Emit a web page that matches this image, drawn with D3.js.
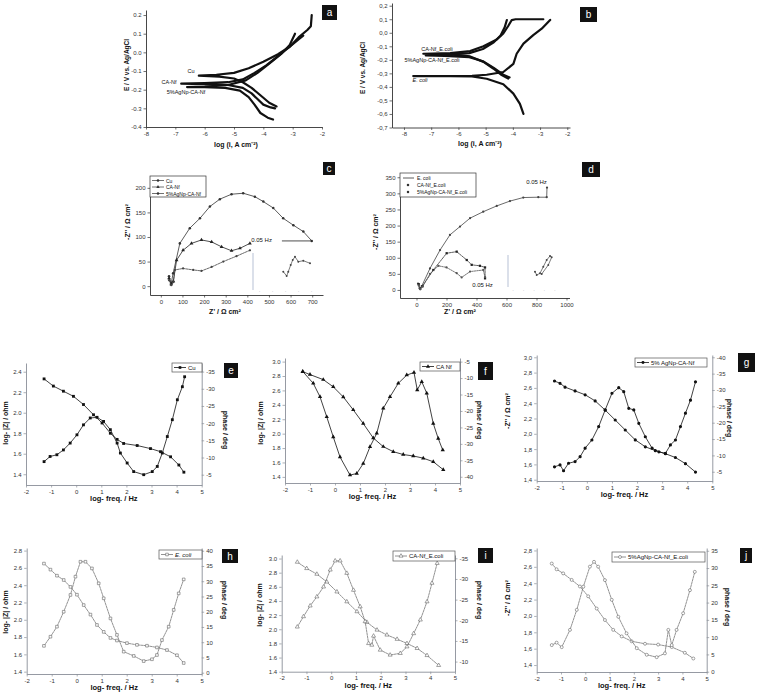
<!DOCTYPE html>
<html><head><meta charset="utf-8">
<script src="https://cdn.jsdelivr.net/npm/d3@7"></script>
<style>body{margin:0;background:#fff}svg{display:block;font-family:"Liberation Sans",Arial,sans-serif}</style>
</head><body><svg id="chart" width="757" height="696"></svg>
<script>
// ---------------- DATA ----------------
// Panel a: Tafel (log i, E)
const tafelXTicks = [-8,-7,-6,-5,-4,-3,-2];
const tafelAYTicks = [0.2,0.1,0.0,-0.1,-0.2,-0.3,-0.4];
const tafelAYLabels = ["0.2","0.1","0.0","-0.1","-0.2","-0.3","-0.4"];
const tafelCu = [[-3.55,-0.29],[-3.8,-0.27],[-4.1,-0.23],[-4.4,-0.19],[-4.7,-0.16],[-5.0,-0.14],[-5.5,-0.13],[-6.2,-0.125],[-5.6,-0.12],[-5.0,-0.11],[-4.5,-0.085],[-4.0,-0.05],[-3.5,-0.01],[-3.1,0.03],[-2.8,0.08],[-2.5,0.12],[-2.38,0.14],[-2.35,0.2]];
const tafelCaNf = [[-3.6,-0.30],[-3.75,-0.295],[-4.0,-0.28],[-4.2,-0.25],[-4.4,-0.22],[-4.7,-0.19],[-5.2,-0.175],[-6.0,-0.17],[-6.8,-0.168],[-6.0,-0.165],[-5.2,-0.16],[-4.7,-0.145],[-4.3,-0.11],[-3.9,-0.07],[-3.5,-0.02],[-3.1,0.03],[-2.8,0.07],[-2.64,0.09]];
const tafelAg = [[-3.67,-0.36],[-3.85,-0.35],[-4.1,-0.325],[-4.3,-0.28],[-4.5,-0.24],[-4.8,-0.205],[-5.3,-0.19],[-6.0,-0.186],[-6.6,-0.186],[-6.0,-0.183],[-5.2,-0.175],[-4.6,-0.15],[-4.2,-0.11],[-3.8,-0.06],[-3.4,-0.01],[-3.1,0.04],[-2.92,0.10]];
// Panel b
const tafelBYTicks = [0.2,0.1,0,-0.1,-0.2,-0.3,-0.4,-0.5,-0.6,-0.7];
const tafelBYLabels = ["0,2","0,1","0,0","-0,1","-0,2","-0,3","-0,4","-0,5","-0,6","-0,7"];
const tafelEcoli = [[-3.61,-0.6],[-3.74,-0.525],[-3.98,-0.45],[-4.35,-0.38],[-4.96,-0.34],[-5.5,-0.323],[-6.3,-0.32],[-7.0,-0.32],[-7.66,-0.32],[-7.0,-0.32],[-6.3,-0.32],[-5.5,-0.318],[-4.96,-0.31],[-4.35,-0.29],[-3.98,-0.23],[-3.86,-0.155],[-3.61,-0.08],[-3.25,-0.017],[-2.94,0.03],[-2.63,0.095]];
const tafelCaNfEcoli = [[-4.17,-0.338],[-4.41,-0.313],[-4.72,-0.264],[-5.08,-0.215],[-5.57,-0.175],[-6.3,-0.16],[-7.29,-0.155],[-6.3,-0.15],[-5.57,-0.135],[-5.08,-0.1],[-4.59,-0.05],[-4.35,-0.005],[-4.17,0.05],[-4.04,0.094],[-3.9,0.1],[-2.88,0.1]];
const tafelAgEcoli = [[-4.12,-0.33],[-4.35,-0.31],[-4.7,-0.26],[-5.1,-0.21],[-5.6,-0.18],[-6.5,-0.17],[-7.2,-0.168],[-6.5,-0.163],[-5.6,-0.15],[-5.1,-0.12],[-4.7,-0.07],[-4.45,-0.02],[-4.3,0.04],[-4.22,0.094]];
// Panel c: Nyquist (Z', -Z'')
const nyqCXTicks = [0,100,200,300,400,500,600,700];
const nyqCYTicks = [0,50,100,150,200];
const nyqCu = [[38,20],[48,6],[57,26],[88,87],[134,118],[181,138],[227,162],[273,177],[327,187],[381,189],[435,182],[474,172],[520,159],[566,138],[613,124],[659,111],[698,92]];
const nyqCaNf = [[38,16],[48,4],[58,10],[73,53],[103,73],[142,87],[188,94],[235,90],[281,80],[327,72],[366,77],[412,87]];
const nyqAg = [[38,12],[48,2],[58,8],[65,33],[103,36],[150,33],[188,31],[235,39],[289,50],[350,61],[412,73]];
const insetC = [[46.6,49.5],[51.8,37.8],[54.3,49.5],[58,67.6],[61.1,81],[64.6,90],[69.7,76.5],[77.4,79.2],[87.7,72.2]];
// Panel d
const nyqDXTicks = [0,200,400,600,800,1000];
const nyqDYTicks = [0,50,100,150,200,250,300,350];
const nyqEcoli = [[10,20],[20,5],[35,12],[90,67],[157,124],[223,171],[290,197],[357,223],[445,243],[535,261],[623,276],[712,287],[812,288],[868,288],[870,318]];
const nyqCaNfEcoli = [[15,18],[25,4],[40,12],[112,62],[201,114],[268,119],[335,93],[368,78],[423,75],[457,70],[457,36]];
const nyqAgEcoli = [[15,14],[25,2],[40,10],[90,50],[146,75],[200,70],[268,52],[301,39],[357,57],[445,62],[457,40]];
const insetD = [[51.9,47.8],[55.2,37.5],[61.5,42.8],[67.9,63.4],[74.4,84.4],[80.8,96.9],[84,92.8],[77.5,68.8],[64.8,40.6]];
// Panels e-j: Bode (log f, log|Z|) and (log f, phase)
const bodeXTicks = [-2,-1,0,1,2,3,4,5];
const cuLogZ = [[-1.28,2.33],[-0.91,2.26],[-0.51,2.21],[-0.11,2.16],[0.29,2.08],[0.69,1.98],[1.03,1.90],[1.36,1.80],[1.63,1.74],[1.89,1.70],[2.43,1.68],[2.96,1.65],[3.36,1.62],[3.76,1.57],[4.09,1.49],[4.29,1.42]];
const cuPhase = [[-1.28,-8.8],[-1.04,-10.3],[-0.77,-10.8],[-0.51,-12.2],[-0.24,-14.2],[0.03,-16.6],[0.29,-19.5],[0.56,-21.5],[0.83,-21.7],[1.09,-20.5],[1.36,-18.1],[1.63,-14.2],[1.76,-11.3],[2.03,-8.4],[2.29,-5.9],[2.69,-5.0],[3.03,-5.9],[3.23,-7.4],[3.43,-11.3],[3.63,-16.1],[3.83,-21],[4.03,-26.8],[4.23,-30.6],[4.32,-33.5]];
const caNfLogZ = [[-1.29,2.86],[-1.0,2.82],[-0.47,2.75],[-0.07,2.65],[0.33,2.51],[0.73,2.33],[1.13,2.14],[1.53,1.94],[1.93,1.82],[2.33,1.75],[2.73,1.71],[3.13,1.69],[3.53,1.66],[3.93,1.61],[4.33,1.50]];
const caNfPhase = [[-1.29,-8.0],[-0.87,-11.6],[-0.6,-15.7],[-0.33,-21.8],[-0.07,-27.9],[0.2,-34.0],[0.6,-39.5],[0.87,-39.0],[1.13,-36.0],[1.4,-30.9],[1.67,-26.8],[1.93,-19.2],[2.2,-15.7],[2.53,-11.6],[2.87,-9.1],[3.16,-8.3],[3.29,-13.6],[3.47,-11.1],[3.67,-14.6],[3.93,-23.8],[4.13,-28.4],[4.31,-31.9]];
const agLogZ = [[-1.29,2.69],[-1.07,2.66],[-0.87,2.61],[-0.47,2.56],[-0.07,2.51],[0.33,2.43],[0.73,2.31],[1.13,2.18],[1.53,2.05],[1.93,1.92],[2.33,1.83],[2.73,1.78],[3.13,1.74],[3.53,1.69],[3.93,1.61],[4.33,1.50]];
const agPhase = [[-1.29,-6.5],[-1.07,-7.1],[-0.93,-5.3],[-0.73,-7.6],[-0.47,-8.1],[-0.27,-9.6],[-0.07,-12.2],[0.2,-14.7],[0.47,-18.8],[0.73,-23.9],[1.0,-29.0],[1.27,-30.7],[1.47,-29.5],[1.67,-24.4],[1.87,-23.9],[2.07,-19.8],[2.33,-15.7],[2.6,-12.2],[2.87,-11.1],[3.13,-10.6],[3.33,-13.2],[3.53,-14.7],[3.73,-18.8],[3.93,-22.9],[4.13,-26.9],[4.33,-32.5]];
const ecoliLogZ = [[-1.31,2.65],[-1.05,2.58],[-0.79,2.51],[-0.52,2.46],[-0.25,2.38],[0.01,2.29],[0.28,2.17],[0.55,2.06],[0.81,1.94],[1.08,1.86],[1.35,1.79],[1.61,1.76],[2.01,1.73],[2.41,1.71],[2.81,1.70],[3.21,1.68],[3.61,1.65],[4.01,1.59],[4.28,1.50]];
const ecoliPhase = [[-1.31,8.8],[-1.05,11.8],[-0.79,15.1],[-0.52,20.0],[-0.25,25.5],[-0.05,31.5],[0.15,36.4],[0.35,36.4],[0.61,34.2],[0.88,29.3],[1.08,24.4],[1.35,17.8],[1.61,12.4],[1.88,6.9],[2.28,5.5],[2.68,3.8],[3.01,4.4],[3.21,5.8],[3.41,10.7],[3.68,15.1],[3.88,20.6],[4.08,26.0],[4.28,30.6]];
const caNfEcoliLogZ = [[-1.37,2.95],[-0.99,2.86],[-0.58,2.78],[-0.18,2.67],[0.23,2.53],[0.63,2.39],[1.04,2.25],[1.44,2.10],[1.85,1.99],[2.25,1.92],[2.66,1.86],[3.06,1.80],[3.47,1.73],[3.87,1.63],[4.34,1.49]];
const caNfEcoliPhase = [[-1.37,-18.4],[-1.12,-20.9],[-0.85,-23.5],[-0.58,-25.7],[-0.31,-28.1],[-0.04,-32.2],[0.16,-34.4],[0.36,-34.4],[0.63,-31.4],[0.9,-27.3],[1.17,-23.3],[1.37,-19.7],[1.51,-14.4],[1.64,-14.0],[1.71,-16.2],[1.98,-12.8],[2.38,-11.6],[2.79,-12.0],[3.06,-13.6],[3.33,-16.8],[3.6,-20.1],[3.87,-24.5],[4.07,-29.0],[4.28,-33.8]];
const agEcoliLogZ = [[-1.38,2.64],[-1.18,2.57],[-0.91,2.52],[-0.56,2.44],[-0.22,2.36],[0.12,2.24],[0.47,2.09],[0.81,1.95],[1.15,1.83],[1.5,1.75],[1.91,1.69],[2.46,1.66],[3.0,1.65],[3.56,1.62],[4.1,1.55],[4.45,1.48]];
const agEcoliPhase = [[-1.38,7.7],[-1.18,8.4],[-0.97,7.1],[-0.63,12.1],[-0.35,17.9],[-0.08,24.6],[0.19,30.4],[0.36,31.8],[0.53,30.4],[0.81,26.5],[1.09,20.8],[1.36,15.9],[1.7,11.1],[2.12,6.8],[2.53,4.9],[2.94,4.2],[3.28,5.3],[3.42,12.1],[3.56,7.7],[3.76,12.1],[4.03,16.9],[4.31,23.6],[4.51,28.9]];

// ---------------- DRAWING ----------------
const svg = d3.select('#chart');
svg.append('rect').attr('width',757).attr('height',696).attr('fill','#fff');
const FONT = '"Liberation Sans",Arial,sans-serif';
const plain = d => String(d);

function styleAxis(sel, color, fs){
  sel.attr('font-size',fs||6).attr('font-family',FONT);
  sel.select('.domain').attr('stroke',color).attr('stroke-width',0.9);
  sel.selectAll('.tick line').attr('stroke',color).attr('stroke-width',0.7);
  sel.selectAll('.tick text').attr('fill','#333');
}
function text(x,y,s,o){
  o=o||{};
  const t=svg.append('text').attr('x',x).attr('y',y).text(s)
    .attr('font-size',o.fs||7).attr('font-family',FONT)
    .attr('font-weight',o.bold?'bold':'normal')
    .attr('font-style',o.italic?'italic':'normal')
    .attr('fill',o.fill||'#111')
    .attr('text-anchor',o.anchor||'middle');
  if(o.rot) t.attr('transform',`rotate(${o.rot},${x},${y})`);
  return t;
}
function badge(l,x,y,w,h){
  svg.append('rect').attr('x',x).attr('y',y).attr('width',w).attr('height',h).attr('fill','#111');
  text(x+w/2,y+h/2+3.5,l,{fs:10,fill:'#fff'});
}

function xyPanel(p){
  const x=d3.scaleLinear().domain(p.xd).range([p.x0,p.x1]);
  const y=d3.scaleLinear().domain(p.yd).range([p.y1,p.y0]);
  const ax=svg.append('g').attr('transform',`translate(0,${p.y1})`)
    .call(d3.axisBottom(x).tickValues(p.xt).tickFormat((d,i)=>p.xl?p.xl[i]:plain(d)).tickSize(2.5).tickSizeOuter(0).tickPadding(2));
  styleAxis(ax,p.ac||'#333');
  const ay=svg.append('g').attr('transform',`translate(${p.x0},0)`)
    .call(d3.axisLeft(y).tickValues(p.yt).tickFormat((d,i)=>p.yl?p.yl[i]:plain(d)).tickSize(2.5).tickSizeOuter(0).tickPadding(2));
  styleAxis(ay,p.ac||'#333');
  return {x,y};
}
function path(sc,data,o){
  const ln=d3.line().x(d=>sc.x(d[0])).y(d=>sc.y(d[1]));
  svg.append('path').attr('d',ln(data)).attr('fill','none')
    .attr('stroke',o.stroke||'#111').attr('stroke-width',o.sw||1)
    .attr('stroke-linejoin','round').attr('stroke-linecap','round')
    .attr('stroke-dasharray',o.dash||null);
  if(o.sym){
    const s=d3.symbol().type(o.sym).size(o.ss||8);
    svg.append('g').selectAll('path').data(data).join('path')
      .attr('transform',d=>`translate(${sc.x(d[0])},${sc.y(d[1])})`)
      .attr('d',s).attr('fill',o.mfill||'#111').attr('stroke',o.mstroke||'none').attr('stroke-width',0.6);
  }
}

// ---- Panel a ----
const pa=xyPanel({x0:146,x1:322,y0:10,y1:127,xd:[-8,-2],yd:[-0.4,0.227],xt:tafelXTicks,yt:tafelAYTicks,yl:tafelAYLabels});
[tafelCu,tafelCaNf,tafelAg].forEach(d=>path(pa,d,{sw:2.2}));
text(191,73,'Cu',{fs:5.5});
text(169,84,'CA-Nf',{fs:5.5});
text(186,94,'5%AgNp-CA-Nf',{fs:5.5});
text(129,65,'E / V vs. Ag/AgCl',{fs:6.5,bold:true,rot:-90});
text(236,147,'log (i,  A cm⁻²)',{fs:7,bold:true});
badge('a',322,5,15,15);

// ---- Panel b ----
const pb=xyPanel({x0:392,x1:570,y0:3,y1:127.5,xd:[-8.44,-1.9],yd:[-0.7,0.22],xt:tafelXTicks,yt:tafelBYTicks,yl:tafelBYLabels});
[tafelEcoli,tafelCaNfEcoli,tafelAgEcoli].forEach(d=>path(pb,d,{sw:2.2}));
text(437,51,'CA-Nf_E.coli',{fs:5.5});
text(432,62,'5%AgNp-CA-Nf_E.coli',{fs:5.5});
text(420,82,'E. coli',{fs:5.5,italic:true});
text(365,68,'E / V vs. Ag/AgCl',{fs:6.5,bold:true,rot:-90});
text(480,146,'log (i,  A cm⁻²)',{fs:7,bold:true});
badge('b',580,7,17,15);

// ---- Panel c ----
const pc=xyPanel({x0:150,x1:323,y0:178,y1:295,xd:[-50,750],yd:[-18,220],xt:nyqCXTicks,yt:nyqCYTicks});
path(pc,nyqCu,{sw:0.8,stroke:'#333',sym:d3.symbolCircle,ss:5,mfill:'#333'});
path(pc,nyqCaNf,{sw:0.8,stroke:'#222',sym:d3.symbolTriangle,ss:6,mfill:'#222'});
path(pc,nyqAg,{sw:0.8,stroke:'#444',dash:'2,1',sym:d3.symbolCircle,ss:4,mfill:'#444'});
text(pc.x(418),pc.y(89),'0.05 Hz',{fs:6,anchor:'start'});
svg.append('line').attr('x1',pc.x(560)).attr('x2',pc.x(698)).attr('y1',pc.y(92)).attr('y2',pc.y(92)).attr('stroke','#222').attr('stroke-width',0.8);
svg.append('rect').attr('x',150).attr('y',176).attr('width',56).attr('height',21).attr('fill','#fff').attr('stroke','#333').attr('stroke-width',0.7);
[['Cu',d3.symbolCircle],['CA-Nf',d3.symbolTriangle],['5%AgNp-CA-Nf',d3.symbolCircle]].forEach((e,i)=>{
  const yy=180.5+i*6.5;
  svg.append('line').attr('x1',152).attr('x2',164).attr('y1',yy).attr('y2',yy).attr('stroke','#333').attr('stroke-width',0.7);
  svg.append('path').attr('transform',`translate(158,${yy})`).attr('d',d3.symbol().type(e[1]).size(5)()).attr('fill','#333');
  text(166,yy+2,e[0],{fs:5,anchor:'start'});
});
const icx=d3.scaleLinear().domain([0,100]).range([253,318]);
const icy=d3.scaleLinear().domain([0,100]).range([290,253]);
svg.append('line').attr('x1',253).attr('x2',253).attr('y1',253).attr('y2',290).attr('stroke','#8899bb').attr('stroke-width',0.6);
path({x:icx,y:icy},insetC,{sw:0.7,stroke:'#444',sym:d3.symbolCircle,ss:3,mfill:'#444'});
[10,30,50,70,90].forEach(v=>text(icx(v),293,'·',{fs:5,fill:'#99a'}));
text(130,222,"-Z'' / Ω cm²",{fs:7,bold:true,rot:-90});
text(225,314,"Z' / Ω cm²",{fs:7,bold:true});
badge('c',323,162,12,13);

// ---- Panel d ----
const pd=xyPanel({x0:400,x1:569.5,y0:175,y1:298,xd:[-110,1020],yd:[-25,357],xt:nyqDXTicks,yt:nyqDYTicks});
path(pd,nyqEcoli,{sw:0.8,stroke:'#444',sym:d3.symbolCircle,ss:4,mfill:'#444'});
path(pd,nyqCaNfEcoli,{sw:0.8,stroke:'#333',dash:'2,1',sym:d3.symbolSquare,ss:5,mfill:'#222'});
path(pd,nyqAgEcoli,{sw:0.8,stroke:'#555',dash:'1.5,1',sym:d3.symbolCircle,ss:4,mfill:'#555'});
text(pd.x(800),184,'0.05 Hz',{fs:6});
text(pd.x(440),287,'0.05 Hz',{fs:6});
svg.append('rect').attr('x',400).attr('y',173).attr('width',76).attr('height',24).attr('fill','#fff').attr('stroke','#333').attr('stroke-width',0.7);
[['E. coli',null],['CA-Nf_E.coli',d3.symbolSquare],['5%AgNp-CA-Nf_E.coli',d3.symbolCircle]].forEach((e,i)=>{
  const yy=178+i*7;
  if(!e[1]) svg.append('line').attr('x1',403).attr('x2',414).attr('y1',yy).attr('y2',yy).attr('stroke','#333').attr('stroke-width',0.8);
  else svg.append('path').attr('transform',`translate(408,${yy})`).attr('d',d3.symbol().type(e[1]).size(5)()).attr('fill','#333');
  text(417,yy+2,e[0],{fs:5,anchor:'start'});
});
const idx=d3.scaleLinear().domain([0,100]).range([508,560]);
const idy=d3.scaleLinear().domain([0,100]).range([287,255]);
svg.append('line').attr('x1',508).attr('x2',508).attr('y1',255).attr('y2',287).attr('stroke','#8899bb').attr('stroke-width',0.6);
path({x:idx,y:idy},insetD,{sw:0.7,stroke:'#444',sym:d3.symbolCircle,ss:3,mfill:'#444'});
[10,30,50,70,90].forEach(v=>text(idx(v),292,'·',{fs:5,fill:'#99a'}));
text(378,232,"-Z'' / Ω cm²",{fs:7,bold:true,rot:-90});
text(460,314,"Z' / Ω cm²",{fs:7,bold:true});
badge('d',582,162,18,15);

// ---- Bode panels e-j ----
const bodePanels=[
 {id:'e',x0:26,x1:201.7,yt:363,yb:485,ylD:[1.295,2.485],yrD:[-2,-37.5],ylT:[1.4,1.6,1.8,2.0,2.2,2.4],yrT:[-35,-30,-25,-20,-15,-10,-5],comma:false,z:cuLogZ,ph:cuPhase,sym:d3.symbolSquare,open:false,leg:'Cu',lb:[172,363,30,9],ylab:'log- |Z| / ohm',ltx:8,lty:423,rtx:223,rty:430,badge:[224,363,14,15]},
 {id:'f',x0:285,x1:460,yt:358,yb:483,ylD:[1.315,3.05],yrD:[-41.9,-3.9],ylT:[1.4,1.6,1.8,2.0,2.2,2.4,2.6,2.8,3.0],yrT:[-40,-35,-30,-25,-20,-15,-10,-5],comma:false,z:caNfLogZ,ph:caNfPhase,sym:d3.symbolTriangle,open:false,leg:'CA Nf',lb:[420,362,40,9],ylab:'log- |Z| / ohm',ltx:263,lty:423,rtx:477,rty:420,badge:[478,362,15,18]},
 {id:'g',x0:536.7,x1:712.3,yt:355,yb:481,ylD:[1.383,3.03],yrD:[-2.17,-40.7],ylT:[1.4,1.6,1.8,2.0,2.2,2.4,2.6,2.8,3.0],yrT:[-40,-35,-30,-25,-20,-15,-10,-5],comma:true,z:agLogZ,ph:agPhase,sym:d3.symbolCircle,open:false,leg:'5% AgNp-CA-Nf',lb:[635,358,72,9],ylab:"-Z'' / Ω cm²",ltx:510,lty:411,rtx:727,rty:418,badge:[738,353,17,19]},
 {id:'h',x0:26.7,x1:201.7,yt:548,yb:674,ylD:[1.373,2.83],yrD:[-0.43,40.9],ylT:[1.4,1.6,1.8,2.0,2.2,2.4,2.6,2.8],yrT:[0,5,10,15,20,25,30,35,40],comma:false,z:ecoliLogZ,ph:ecoliPhase,sym:d3.symbolSquare,open:true,leg:'E. coli',legItalic:true,lb:[159,550,43,9],ylab:'log- |Z| / ohm',ltx:8,lty:612,rtx:222,rty:600,badge:[222,549,16,14]},
 {id:'i',x0:281.7,x1:455,yt:555,yb:671.7,ylD:[1.40,3.05],yrD:[-7.55,-35.8],ylT:[1.4,1.6,1.8,2.0,2.2,2.4,2.6,2.8,3.0],yrT:[-35,-30,-25,-20,-15,-10],comma:false,z:caNfEcoliLogZ,ph:caNfEcoliPhase,sym:d3.symbolTriangle,open:true,leg:'CA-Nf_E.coli',lb:[393,551,62,10],ylab:'log- |Z| / ohm',ltx:262,lty:605,rtx:477,rty:600,badge:[478,548,15,15]},
 {id:'j',x0:536.7,x1:706.7,yt:548,yb:672,ylD:[1.315,2.83],yrD:[-0.09,35.8],ylT:[1.4,1.6,1.8,2.0,2.2,2.4,2.6,2.8],yrT:[0,5,10,15,20,25,30,35],comma:true,z:agEcoliLogZ,ph:agEcoliPhase,sym:d3.symbolCircle,open:true,leg:'5%AgNp-CA-Nf_E.coli',lb:[612,552,93,10],ylab:"-Z'' / Ω cm²",ltx:510,lty:598,rtx:725,rty:607,badge:[740,548,12,15]}
];
bodePanels.forEach(p=>{
  const x=d3.scaleLinear().domain([-2,5]).range([p.x0,p.x1]);
  const yl=d3.scaleLinear().domain(p.ylD).range([p.yb,p.yt]);
  const yr=d3.scaleLinear().domain(p.yrD).range([p.yb,p.yt]);
  const ac='#8a8f98';
  const fmt=v=>{const s=v.toFixed(1);return p.comma?s.replace('.',','):s;};
  const gx=svg.append('g').attr('transform',`translate(0,${p.yb})`).call(d3.axisBottom(x).tickValues(bodeXTicks).tickFormat(plain).tickSize(2.5).tickSizeOuter(0).tickPadding(2));
  styleAxis(gx,ac);
  const gl=svg.append('g').attr('transform',`translate(${p.x0},0)`).call(d3.axisLeft(yl).tickValues(p.ylT).tickFormat(fmt).tickSize(2.5).tickSizeOuter(0).tickPadding(2));
  styleAxis(gl,ac);
  const gr=svg.append('g').attr('transform',`translate(${p.x1},0)`).call(d3.axisRight(yr).tickValues(p.yrT).tickFormat(plain).tickSize(2.5).tickSizeOuter(0).tickPadding(2));
  styleAxis(gr,ac);
  const col=p.open?'#777':'#111';
  const opts={sw:0.8,stroke:col,dash:p.open?'2,1':null,sym:p.sym,ss:p.open?7:8,mfill:p.open?'#fff':'#111',mstroke:p.open?'#666':'none'};
  path({x:x,y:yl},p.z,opts);
  path({x:x,y:yr},p.ph,opts);
  const [lx,ly,lw,lh]=p.lb;
  svg.append('rect').attr('x',lx).attr('y',ly).attr('width',lw).attr('height',lh).attr('fill','#fff').attr('stroke','#555').attr('stroke-width',0.7);
  svg.append('line').attr('x1',lx+2).attr('x2',lx+14).attr('y1',ly+lh/2).attr('y2',ly+lh/2).attr('stroke',col).attr('stroke-width',0.8);
  svg.append('path').attr('transform',`translate(${lx+8},${ly+lh/2})`).attr('d',d3.symbol().type(p.sym).size(7)()).attr('fill',opts.mfill).attr('stroke',opts.mstroke).attr('stroke-width',0.6);
  text(lx+16,ly+lh/2+2.2,p.leg,{fs:6,anchor:'start',italic:!!p.legItalic});
  text((p.x0+p.x1)/2,p.yb+16,'log- freq. / Hz',{fs:7.5,bold:true});
  text(p.ltx,p.lty,p.ylab,{fs:7,bold:true,rot:-90});
  text(p.rtx,p.rty,'phase / deg',{fs:7,bold:true,rot:90});
  badge(p.id,p.badge[0],p.badge[1],p.badge[2],p.badge[3]);
});
</script></body></html>
